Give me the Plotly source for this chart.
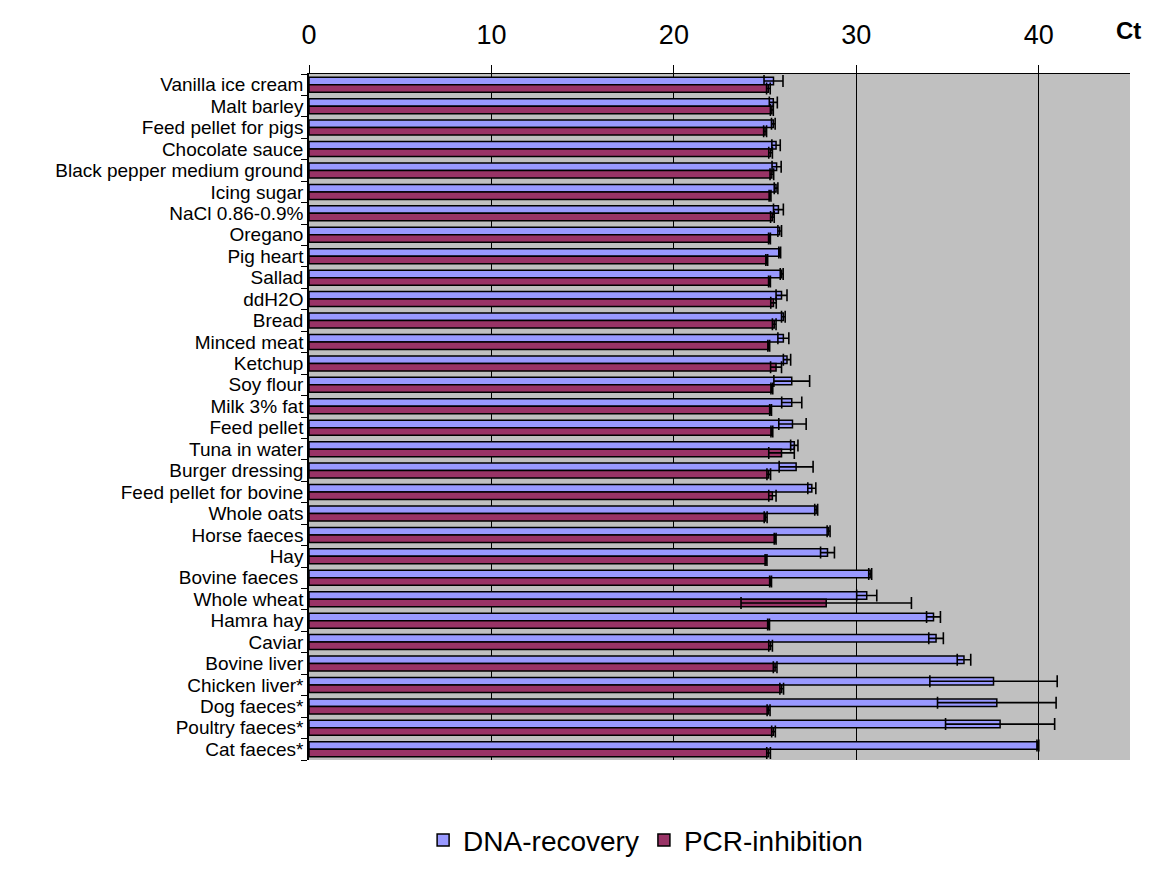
import plotly.graph_objects as go

categories = ["Vanilla ice cream", "Malt barley", "Feed pellet for pigs", "Chocolate sauce",
              "Black pepper medium ground", "Icing sugar", "NaCl 0.86-0.9%", "Oregano",
              "Pig heart", "Sallad", "ddH2O", "Bread", "Minced meat", "Ketchup", "Soy flour",
              "Milk 3% fat", "Feed pellet", "Tuna in water", "Burger dressing",
              "Feed pellet for bovine", "Whole oats", "Horse faeces", "Hay",
              "Bovine faeces\u00a0", "Whole wheat", "Hamra hay", "Caviar", "Bovine liver",
              "Chicken liver*", "Dog faeces*", "Poultry faeces*", "Cat faeces*"]

dna_recovery = [25.46, 25.45, 25.45, 25.6, 25.63, 25.6, 25.73, 25.8, 25.8, 25.91, 25.9, 26.0,
                26.0, 26.2, 26.46, 26.46, 26.5, 26.6, 26.7, 27.56, 27.8, 28.48, 28.42, 30.76,
                30.57, 34.23, 34.37, 35.9, 37.52, 37.7, 37.88, 39.95]
dna_err = [0.52, 0.22, 0.1, 0.23, 0.25, 0.1, 0.27, 0.1, 0.05, 0.08, 0.3, 0.1, 0.3, 0.2, 0.98,
           0.55, 0.75, 0.2, 0.93, 0.22, 0.08, 0.08, 0.38, 0.08, 0.55, 0.38, 0.4, 0.37, 3.49,
           3.25, 2.99, 0.05]

pcr_inhibition = [25.18, 25.37, 25.0, 25.3, 25.37, 25.27, 25.4, 25.24, 25.09, 25.24, 25.46,
                  25.5, 25.2, 25.6, 25.37, 25.3, 25.37, 25.9, 25.2, 25.4, 25.03, 25.55, 25.05,
                  25.3, 28.35, 25.19, 25.3, 25.55, 25.91, 25.19, 25.46, 25.19]
pcr_err = [0.1, 0.08, 0.08, 0.1, 0.1, 0.05, 0.1, 0.05, 0.05, 0.05, 0.15, 0.1, 0.05, 0.3, 0.05,
           0.05, 0.05, 0.7, 0.1, 0.2, 0.08, 0.05, 0.05, 0.05, 4.67, 0.05, 0.1, 0.1, 0.1, 0.08,
           0.1, 0.1]

x_ticks = [0, 10, 20, 30, 40]

FONT = "Liberation Sans, Arial, sans-serif"

fig = go.Figure()
fig.add_trace(go.Bar(
    name="DNA-recovery", y=categories, x=dna_recovery, orientation="h",
    marker=dict(color="#9999FF", line=dict(color="black", width=1.5)),
    error_x=dict(type="data", array=dna_err, color="black", thickness=1.6, width=6),
))
fig.add_trace(go.Bar(
    name="PCR-inhibition", y=categories, x=pcr_inhibition, orientation="h",
    marker=dict(color="#993366", line=dict(color="black", width=1.5)),
    error_x=dict(type="data", array=pcr_err, color="black", thickness=1.6, width=6),
))

# page body adds an 8px offset, so the figure is sized to fill the rest of the window
fig.update_layout(
    width=1146, height=871,
    margin=dict(l=301, r=24, t=66, b=119),
    paper_bgcolor="white", plot_bgcolor="#C0C0C0",
    barmode="group", bargap=0.3, bargroupgap=0,
    font=dict(family=FONT, color="black"),
    showlegend=True,
    legend=dict(orientation="h", x=0.41, xanchor="center", y=-0.117, yanchor="middle",
                font=dict(size=28, family=FONT), traceorder="normal",
                bgcolor="rgba(0,0,0,0)"),
    xaxis=dict(side="top", range=[0, 45], tickvals=x_ticks, ticks="outside", ticklen=8,
               tickcolor="black", tickfont=dict(size=27, family=FONT),
               ticklabelstandoff=10,
               showgrid=True, gridcolor="black", gridwidth=1, zeroline=False,
               showline=True, linecolor="black", linewidth=1),
    yaxis=dict(type="category", autorange="reversed", ticks="outside", ticklen=6,
               tickmode="array", tickvals=categories, ticktext=categories,
               tickson="boundaries", tickcolor="black", tickfont=dict(size=19, family=FONT),
               showgrid=False, showline=True, linecolor="black", linewidth=1.5),
    annotations=[dict(text="<b>Ct</b>", xref="paper", yref="paper", x=0.9976, y=1.064,
                      xanchor="center", yanchor="middle", showarrow=False,
                      font=dict(size=24, family=FONT))],
)

fig.write_html("out.html")
